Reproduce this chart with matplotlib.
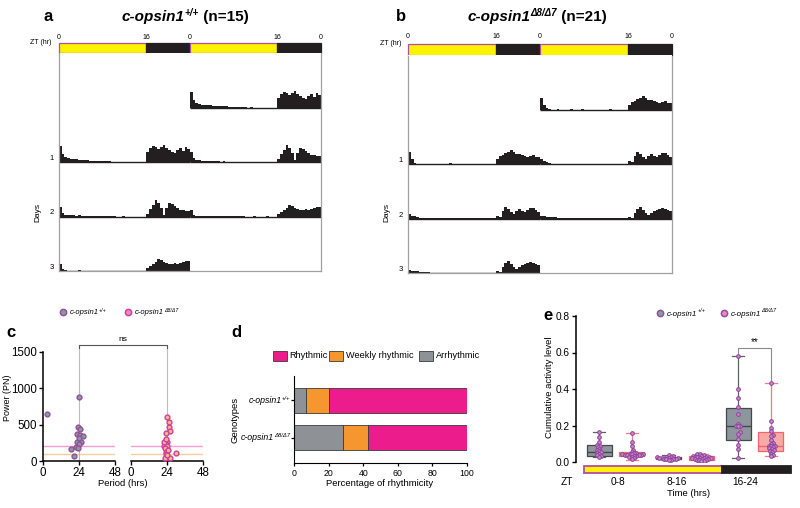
import numpy as np
import matplotlib
matplotlib.use("Agg")
import matplotlib.pyplot as plt
from matplotlib.transforms import IdentityTransform
from matplotlib.lines import Line2D
from matplotlib.patches import Rectangle

plt.rcParams['font.family'] = ['Liberation Sans', 'DejaVu Sans']

W, H, DPI = 800, 508, 100

# ---------------- DATA ----------------
# LD cycle
light_hours = 16
day_hours = 24
bin_hours = 0.5
zt_tick_hours = [0, 16, 24, 40, 48]
zt_tick_labels = ['0', '16', '0', '16', '0']

# Actogram activity (30-min bins, 3 recorded days), a.u.
wt_day1 = [16, 8, 5, 4, 3, 3, 3, 2.5, 2, 2, 2, 1.5, 1.5, 1.5, 1, 1, 1, 0.8, 0.8, 0.5,
           0.3, 0, 0.3, 0, 0, 0, 0, 0, 0, 0, 0, 0,
           10, 14, 16, 15, 13, 15, 17, 14, 12, 10, 9, 12, 14, 11, 15, 13]
wt_day2 = [10, 4, 2, 2, 1.5, 1.5, 1, 1.5, 1, 1, 1, 0.5, 1, 0.5, 0.5, 0.5, 0.5, 0.3, 0.3, 0.3,
           0.5, 0, 0, 0.3, 0, 0, 0, 0, 0, 0, 0, 0,
           3, 8, 12, 17, 14, 9, 2, 9, 14, 13, 11, 9, 7, 7, 6, 6]
wt_day3 = [7, 2, 1, 0.5, 0.5, 0.5, 0.5, 1, 0.5, 0.5, 0.5, 0.3, 0.5, 0.3, 0.3, 0.5, 0.3, 0.3, 0.3, 0.3,
           0, 0, 0, 0.3, 0, 0, 0, 0, 0.3, 0, 0, 0,
           3, 5, 7, 9, 12, 11, 9, 8, 7, 7, 8, 7, 8, 9, 10, 10]
mut_day1 = [12, 5, 1.5, 0.5, 0.3, 0.3, 0.5, 0.3, 0.3, 0.3, 0.3, 0.5, 0.3, 0.3, 0.3, 1, 0.3, 0.3, 0.3, 0.3,
            0.3, 0.3, 0.3, 0.3, 0.3, 0.5, 0.3, 0.3, 0.3, 0.3, 0.3, 0.3,
            5, 8, 9, 11, 12, 14, 12, 10, 10, 9, 8, 7, 8, 9, 7, 7]
mut_day2 = [5, 3, 2.5, 1.5, 0.5, 0.3, 0.3, 0.3, 0.5, 0.3, 0.3, 0.3, 0.3, 0.5, 0.3, 0.3, 0.3, 0.3, 0.3, 0.3,
            0.3, 0.3, 0.3, 0.3, 0.3, 0.3, 0.3, 0.3, 0.3, 0.3, 0.3, 0.3,
            3, 2, 8, 12, 10, 7, 5, 8, 10, 8, 7, 9, 11, 11, 9, 7]
mut_day3 = [3, 2.5, 2, 2, 1.5, 1.5, 1, 1, 0.5, 0.5, 0.5, 0.5, 0.5, 0.5, 0.5, 0.5, 0.5, 0.5, 0.5, 0.5,
            0.5, 0.5, 0.5, 0.5, 0.5, 0.5, 0.5, 0.5, 0.5, 0.5, 0.5, 0.5,
            2, 1, 6, 10, 12, 9, 6, 4, 6, 8, 9, 10, 11, 10, 9, 8]

# Panel c: periodogram peaks
wt_period = [2.6, 24.2, 23.1, 24.4, 22.7, 24.7, 26.4, 22.7, 25.1, 24.2, 21.8, 18.9, 20.9, 24.0, 23.3]
wt_power = [642, 876, 472, 445, 372, 358, 349, 266, 266, 229, 193, 161, 73, 310, 183]
mut_period = [24.2, 25.3, 25.5, 25.7, 23.1, 22.7, 24.2, 23.6, 22.3, 24.2, 22.9, 23.6, 23.1, 24.2,
              22.9, 25.7, 30.2, 22.3, 24.6, 23.8, 23.4]
mut_power = [601, 532, 472, 417, 381, 266, 266, 239, 211, 211, 174, 119, 96, 60,
             37, 37, 106, 257, 150, 83, 300]
sig_threshold = 200
weekly_threshold = 100
c_ticks_x = [0, 24, 48]
c_ticks_y = [0, 500, 1000, 1500]

# Panel d: rhythmicity percentages
genotypes = ['+/+', '\u03948/\u03947']
pct_arrhythmic = [6.7, 28.6]
pct_weekly = [13.3, 14.3]
pct_rhythmic = [80.0, 57.1]
d_ticks = [0, 20, 40, 60, 80, 100]

# Panel e: cumulative activity
e_groups = ['0-8', '8-16', '16-24']
e_wt_points = [
    [0.164, 0.135, 0.109, 0.095, 0.089, 0.082, 0.071, 0.064, 0.058, 0.053, 0.049, 0.044, 0.036, 0.031, 0.027],
    [0.038, 0.035, 0.030, 0.028, 0.025, 0.024, 0.022, 0.020, 0.020, 0.018, 0.017, 0.015, 0.014, 0.012, 0.010],
    [0.583, 0.402, 0.350, 0.300, 0.265, 0.210, 0.200, 0.198, 0.195, 0.165, 0.155, 0.125, 0.095, 0.070, 0.020],
]
e_mut_points = [
    [0.157, 0.110, 0.085, 0.065, 0.055, 0.050, 0.048, 0.045, 0.045, 0.043, 0.042, 0.040, 0.040, 0.038,
     0.036, 0.035, 0.033, 0.030, 0.028, 0.020, 0.015],
    [0.045, 0.042, 0.038, 0.035, 0.033, 0.030, 0.028, 0.027, 0.025, 0.023, 0.022, 0.021, 0.020, 0.018,
     0.016, 0.015, 0.013, 0.012, 0.010, 0.008, 0.005],
    [0.435, 0.222, 0.185, 0.170, 0.150, 0.140, 0.120, 0.105, 0.100, 0.090, 0.088, 0.085, 0.080, 0.075,
     0.070, 0.065, 0.060, 0.055, 0.045, 0.040, 0.032],
]
# box stats: (whislo, q1, med, q3, whishi)
e_wt_box = [(0.027, 0.033, 0.055, 0.093, 0.164), (0.010, 0.015, 0.020, 0.028, 0.038), (0.020, 0.122, 0.199, 0.295, 0.583)]
e_mut_box = [(0.013, 0.031, 0.044, 0.053, 0.157), (0.005, 0.013, 0.022, 0.035, 0.045), (0.031, 0.062, 0.086, 0.162, 0.435)]
e_ticks = [0.0, 0.2, 0.4, 0.6, 0.8]

# ---------------- STYLE ----------------
YELLOW = '#FFF200'
DARK = '#231F20'
LD_EDGE = '#B24CA8'
FRAME = '#A0A0A0'
WT_FACE, WT_EDGE = '#7FA199', '#9A4C9E'
MUT_FACE, MUT_EDGE = '#F8B88C', '#CF3F9B'
C_RHY, C_WEEK, C_ARR = '#EC1C8C', '#F5962E', '#8E9196'

fig = plt.figure(figsize=(W / DPI, H / DPI), dpi=DPI)
renderer = fig.canvas.get_renderer()


def ax_px(x0, y0, x1, y1):
    return fig.add_axes([x0 / W, 1 - y1 / H, (x1 - x0) / W, (y1 - y0) / H])


def ftext(x, y, s, **kw):
    return fig.text(x / W, 1 - y / H, s, **kw)


def rich(x, y, pieces, ha='left'):
    arts = []
    total = 0.0
    for s, kw in pieces:
        kw = dict(kw)
        dy = kw.pop('dy', 0)
        t = fig.text(0, 0, s, transform=IdentityTransform(), ha='left', va='baseline', **kw)
        w = t.get_window_extent(renderer).width
        arts.append((t, dy, total))
        total += w
    start = x - (total if ha == 'right' else total / 2 if ha == 'center' else 0)
    for t, dy, off in arts:
        t.set_position((start + off, H - y + dy))


def marker_px(x, y, face, edge, size=4.5):
    fig.add_artist(Line2D([x], [H - y], transform=IdentityTransform(), marker='o', ms=size,
                          mfc=face, mec=edge, mew=1.1, ls='none'))


def gene_pieces(sup, size, supsize, dy, weight='normal'):
    return [("c-opsin1", dict(fontsize=size, style='italic', weight=weight)),
            (sup, dict(fontsize=supsize, style='italic', weight=weight, dy=dy))]


# ---------------- ACTOGRAMS ----------------
def actogram(x0, x1, yb0, yb1, ybot, days, letter, letter_x, title_cx, sup, n):
    axb = ax_px(x0, yb0, x1, yb1)
    for d in range(2):
        off = d * day_hours
        bl = axb.barh(0, light_hours, left=off, height=1, color=YELLOW, edgecolor=LD_EDGE, lw=0.9)
        bd = axb.barh(0, day_hours - light_hours, left=off + light_hours, height=1, color=DARK,
                      edgecolor=DARK, lw=0.9)
        for p in list(bl) + list(bd):
            p.set_clip_on(False)
    axb.set_xlim(0, 2 * day_hours)
    axb.set_ylim(-0.5, 0.5)
    axb.axis('off')
    for xh, lab in zip(zt_tick_hours, zt_tick_labels):
        axb.text(xh, 1.1, lab, ha='center', va='center', fontsize=5)
    ftext(x0 - 7, (yb0 + yb1) / 2 - 6, 'ZT (hr)', ha='right', va='center', fontsize=5)

    ax = ax_px(x0, yb1, x1, ybot)
    row_h = (ybot - yb1) / 4
    ax.set_xlim(0, 2 * day_hours)
    ax.set_ylim(4 * row_h, 0)
    edges = np.arange(len(days[0]) + 1) * bin_hours
    for r in range(4):
        base = (r + 1) * row_h
        halves = []
        if r >= 1:
            halves.append((days[r - 1], 0))
        if r <= 2:
            halves.append((days[r], day_hours))
        for day, off in halves:
            act = np.asarray(day, dtype=float)
            ax.stairs(base - act, edges + off, baseline=base, fill=True, color=DARK, lw=0)
            ax.plot([off, off + day_hours], [base, base], color=DARK, lw=1.0, solid_capstyle='butt')
        if r >= 1:
            ax.text(-0.9, base - 3.5, str(r), ha='right', va='center', fontsize=5.5)
    ax.set_xticks([])
    ax.set_yticks([])
    ax.spines['top'].set_visible(False)
    for s in ('left', 'right', 'bottom'):
        ax.spines[s].set_color(FRAME)
        ax.spines[s].set_linewidth(0.9)
    ftext(x0 - 21, 213, 'Days', rotation=90, ha='center', va='center', fontsize=6)
    ftext(letter_x, 21, letter, fontsize=12, weight='bold', ha='center', va='baseline')
    rich(title_cx, 21, gene_pieces(sup, 11, 7, 5, 'bold') +
         [(" (n=%d)" % n, dict(fontsize=11, weight='bold'))], ha='center')


actogram(59, 321, 43, 53, 271, [wt_day1, wt_day2, wt_day3], 'a', 48, 185, genotypes[0], 15)
actogram(408, 672, 43.5, 55.5, 273, [mut_day1, mut_day2, mut_day3], 'b', 401, 537, genotypes[1], 21)

# ---------------- PANEL C ----------------
axc1 = ax_px(43, 352, 115, 461)
axc2 = ax_px(131, 352, 203, 461)
bracket_y = 1600
for ax in (axc1, axc2):
    ax.set_xlim(0, 48)
    ax.set_ylim(0, 1500)
    ax.set_xticks(c_ticks_x)
    ax.tick_params(labelsize=8.3, length=3, width=1, pad=1)
    ax.spines['top'].set_visible(False)
    ax.spines['right'].set_visible(False)
    for s in ('left', 'bottom'):
        ax.spines[s].set_linewidth(1.1)
    ax.axhline(sig_threshold, color='#F49ED6', lw=1.0, zorder=1)
    ax.axhline(weekly_threshold, color='#F8CF9C', lw=1.0, zorder=1)
    ax.plot([24, 24], [0, bracket_y], color='#BDBDBD', lw=0.8, clip_on=False, zorder=1)
axc1.set_yticks(c_ticks_y)
axc2.spines['left'].set_visible(False)
axc2.set_yticks([])
axc1.scatter(wt_period, wt_power, s=12, c=WT_FACE, edgecolors=WT_EDGE, linewidths=1.0, zorder=3, clip_on=False)
axc2.scatter(mut_period, mut_power, s=12, c=MUT_FACE, edgecolors=MUT_EDGE, linewidths=1.0, zorder=3, clip_on=False)
p1 = axc1.transData.transform((24, bracket_y))
p2 = axc2.transData.transform((24, bracket_y))
fig.add_artist(Line2D([p1[0], p1[0], p2[0], p2[0]], [p1[1] - 3, p1[1], p2[1], p2[1] - 3],
                      transform=IdentityTransform(), color='#555555', lw=0.8))
fig.text((p1[0] + p2[0]) / 2, p1[1] + 2, 'ns', transform=IdentityTransform(), ha='center',
         va='bottom', fontsize=6)
ftext(8, 398, 'Power (PN)', rotation=90, ha='center', va='center', fontsize=6.5)
ftext(123, 483, 'Period (hrs)', ha='center', va='center', fontsize=6.8)
ftext(11, 337, 'c', fontsize=12, weight='bold', ha='center', va='baseline')
marker_px(63, 312, WT_FACE, WT_EDGE)
rich(70, 314.5, gene_pieces(genotypes[0], 5.5, 3.8, 3))
marker_px(128, 312, '#E98AC6', MUT_EDGE)
rich(135, 314.5, gene_pieces(genotypes[1], 5.5, 3.8, 3))

# ---------------- PANEL D ----------------
axd = ax_px(294, 376, 467, 463)
ypos = np.arange(len(genotypes))
left = np.zeros(len(genotypes))
for vals, col in ((pct_arrhythmic, C_ARR), (pct_weekly, C_WEEK), (pct_rhythmic, C_RHY)):
    axd.barh(ypos, vals, left=left, height=0.667, color=col, edgecolor='#3A3A3A', lw=0.6)
    left = left + np.asarray(vals)
axd.set_xlim(0, 100)
axd.set_ylim(1.667, -0.653)
axd.set_xticks(d_ticks)
axd.set_yticks(ypos)
axd.set_yticklabels(['', ''])
axd.tick_params(labelsize=6.3, length=2.5, width=0.9, pad=1.5)
axd.spines['top'].set_visible(False)
axd.spines['right'].set_visible(False)
for i, g in enumerate(genotypes):
    yl = axd.transData.transform((0, ypos[i]))[1]
    rich(290, H - yl + 2.5, gene_pieces(g, 6.3, 4.2, 3), ha='right')
ftext(380, 483, 'Percentage of rhythmicity', ha='center', va='center', fontsize=6.8)
ftext(235, 420, 'Genotypes', rotation=90, ha='center', va='center', fontsize=6.8)
ftext(236, 337, 'd', fontsize=12, weight='bold', ha='center', va='baseline')
for xb, lab, col in ((273, 'Rhythmic', C_RHY), (329, 'Weekly rhythmic', C_WEEK), (419, 'Arrhythmic', C_ARR)):
    fig.add_artist(Rectangle((xb, H - 361), 14, 10, transform=IdentityTransform(), fc=col,
                             ec='#3A3A3A', lw=0.6))
    ftext(xb + 16.5, 356, lab, ha='left', va='center', fontsize=6.6)

# ---------------- PANEL E ----------------
axe = ax_px(576, 316, 795, 462)
unit_px = 69.5
axe.set_xlim(1 - 39.5 / unit_px, 1 + 179.5 / unit_px)
axe.set_ylim(0, 0.8)
dodge = 0.237
box_w = 0.36
gpos = np.arange(1, len(e_groups) + 1)
ypx_per_unit = 146 / 0.8


def swarm(vals, d_px=2.4):
    ys = np.asarray(vals) * ypx_per_unit
    order = np.argsort(ys)
    placed = []
    offs = np.zeros(len(ys))
    for i in order:
        y = ys[i]
        cands = [0.0]
        for px, py in placed:
            dy = y - py
            if abs(dy) < d_px:
                dx = np.sqrt(d_px ** 2 - dy ** 2)
                cands += [px + dx, px - dx]
        for c in sorted(cands, key=abs):
            if all((c - px) ** 2 + (y - py) ** 2 >= d_px ** 2 - 1e-6 for px, py in placed):
                offs[i] = c
                break
        placed.append((offs[i], y))
    return offs / unit_px


def stats(b):
    return dict(whislo=b[0], q1=b[1], med=b[2], q3=b[3], whishi=b[4], fliers=[])


for boxes, pts, sign, face, edge, wcol in ((e_wt_box, e_wt_points, -1, '#8E969D', '#43484D', '#5D6266'),
                                          (e_mut_box, e_mut_points, 1, '#F6AAA6', '#F0646B', '#F37A7E')):
    pos = gpos + sign * dodge
    axe.bxp([stats(b) for b in boxes], positions=pos, widths=box_w, patch_artist=True,
            showfliers=False, capwidths=0.18,
            boxprops=dict(facecolor=face, edgecolor=edge, lw=0.9),
            medianprops=dict(color=edge, lw=1.0),
            whiskerprops=dict(color=wcol, lw=0.9), capprops=dict(color=wcol, lw=0.9))
    for p, vals in zip(pos, pts):
        axe.scatter(p + swarm(vals), vals, s=7, c='#C68ACB', edgecolors='#8E3F98', linewidths=0.7, zorder=4)

axe.spines['top'].set_visible(False)
axe.spines['right'].set_visible(False)
axe.spines['bottom'].set_visible(False)
axe.spines['left'].set_linewidth(1.1)
axe.set_xticks([])
axe.set_yticks(e_ticks)
axe.set_yticklabels(['%.1f' % v for v in e_ticks])
axe.tick_params(labelsize=7.3, length=3, width=1, pad=1.5)
# significance
xa, xb = gpos[2] - dodge, gpos[2] + dodge
axe.plot([xa, xa, xb, xb], [0.60, 0.625, 0.625, 0.45], color='#8A8A8A', lw=0.8, clip_on=False)
axe.text((xa + xb) / 2, 0.628, '**', ha='center', va='bottom', fontsize=7)
# LD bar
axl = ax_px(584, 466, 791, 473)
bl = axl.barh(0, light_hours, left=0, height=1, color=YELLOW, edgecolor=LD_EDGE, lw=1.3)
bd = axl.barh(0, day_hours - light_hours, left=light_hours, height=1, color=DARK, edgecolor=DARK, lw=1.3)
for p in list(bl) + list(bd):
    p.set_clip_on(False)
axl.set_xlim(0, day_hours)
axl.set_ylim(-0.5, 0.5)
axl.axis('off')
ftext(567, 482, 'ZT', ha='center', va='center', fontsize=7.3)
for gx, g in zip((618, 677, 745), e_groups):
    ftext(gx, 482, g, ha='center', va='center', fontsize=7.3)
ftext(689, 494, 'Time (hrs)', ha='center', va='center', fontsize=6.8)
ftext(550, 387, 'Cumulative activity level', rotation=90, ha='center', va='center', fontsize=6.8)
ftext(548, 320, 'e', fontsize=12, weight='bold', ha='center', va='baseline')
marker_px(660, 313, WT_FACE, WT_EDGE)
rich(667, 315.5, gene_pieces(genotypes[0], 5.8, 4, 3))
marker_px(724, 313, '#E98AC6', '#9A4C9E')
rich(731, 315.5, gene_pieces(genotypes[1], 5.8, 4, 3))

fig.savefig('out.png', dpi=DPI)
